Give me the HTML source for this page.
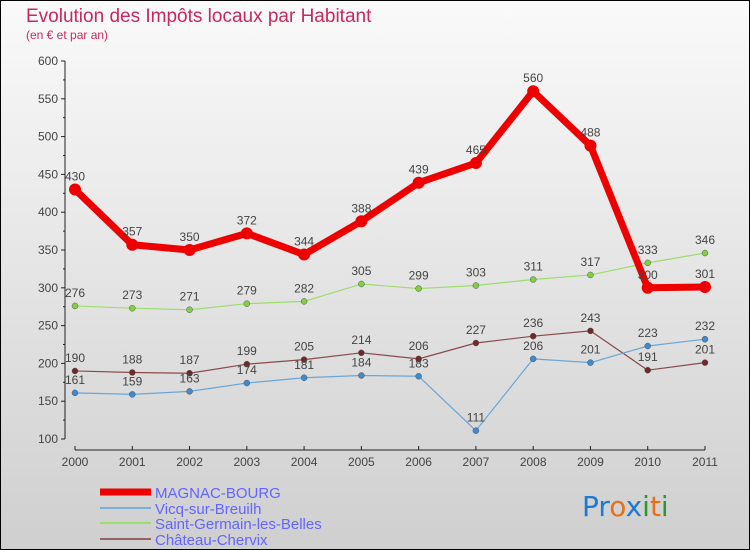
<!DOCTYPE html>
<html><head><meta charset="utf-8"><style>
body{margin:0}
#c{width:750px;height:550px;position:relative;overflow:hidden}
</style></head><body>
<div id="c">
<svg width="750" height="550" xmlns="http://www.w3.org/2000/svg" font-family="'Liberation Sans', sans-serif">
<defs><linearGradient id="bg" x1="0" y1="0" x2="0" y2="1"><stop offset="0" stop-color="#fafafa"/><stop offset="1" stop-color="#cfcfcf"/></linearGradient></defs>
<rect x="0.5" y="0.5" width="749" height="549" fill="url(#bg)" stroke="#000"/>
<text x="26" y="22" font-size="19" fill="#c8285a">Evolution des Impôts locaux par Habitant</text>
<text x="26" y="39" font-size="12" fill="#c8285a">(en € et par an)</text>
<g id="axes"></g><g id="series"></g>
<g>
<line x1="100" y1="492" x2="151" y2="492" stroke="#e00" stroke-width="7"/>
<text x="155" y="498" font-size="15" fill="#6464ff">MAGNAC-BOURG</text>
<line x1="100" y1="508" x2="151" y2="508" stroke="#7aaedc" stroke-width="2"/>
<text x="155" y="514" font-size="15" fill="#6464ff">Vicq-sur-Breuilh</text>
<line x1="100" y1="523" x2="151" y2="523" stroke="#9ddc6e" stroke-width="2"/>
<text x="155" y="529" font-size="15" fill="#6464ff">Saint-Germain-les-Belles</text>
<line x1="100" y1="539" x2="151" y2="539" stroke="#946464" stroke-width="2"/>
<text x="155" y="545" font-size="15" fill="#6464ff">Château-Chervix</text>
</g>
<g font-size="28" font-family="'DejaVu Sans', sans-serif">
<text x="582" y="516"><tspan fill="#1e7ad0">Pr</tspan><tspan fill="#e8701a">o</tspan><tspan fill="#1e7ad0">x</tspan><tspan fill="#2a9a30">i</tspan><tspan fill="#e8701a">t</tspan><tspan fill="#2a9a30">i</tspan></text>
</g>
</svg>
</div>
<script>
const years=["2000","2001","2002","2003","2004","2005","2006","2007","2008","2009","2010","2011"];
const yTicks=[100,150,200,250,300,350,400,450,500,550,600];
const magnac=[430,357,350,372,344,388,439,465,560,488,300,301];
const vicq=[161,159,163,174,181,184,183,111,206,201,223,232];
const saintGermain=[276,273,271,279,282,305,299,303,311,317,333,346];
const chateau=[190,188,187,199,205,214,206,227,236,243,191,201];
const NS="http://www.w3.org/2000/svg";
function xs(i){return 75+i*(705-75)/(years.length-1);}
function ys(v){return 439-(v-100)*378/500;}
function mk(t,a,p){const e=document.createElementNS(NS,t);for(const k in a)e.setAttribute(k,a[k]);p.appendChild(e);return e;}
const ax=document.getElementById('axes');
const yl=mk('line',{x1:65,y1:ys(600),x2:65,y2:ys(100),stroke:'#222'},ax);


yTicks.forEach(v=>{
 mk('line',{x1:61,y1:ys(v),x2:65,y2:ys(v),stroke:'#222'},ax);
 const t=mk('text',{x:58,y:ys(v)+4,'font-size':12,fill:'#444','text-anchor':'end'},ax);
 t.textContent=v;
 
 
});
for(let v=125;v<600;v+=50){mk('line',{x1:63,y1:ys(v),x2:65,y2:ys(v),stroke:'#222'},ax);}
const xl=mk('line',{x1:75,y1:450,x2:705,y2:450,stroke:'#222'},ax);


years.forEach((y,i)=>{
 mk('line',{x1:xs(i),y1:446,x2:xs(i),y2:450,stroke:'#222'},ax);
 const t=mk('text',{x:xs(i),y:466,'font-size':12,fill:'#444','text-anchor':'middle'},ax);
 t.textContent=y;
 
 
});
const sg=document.getElementById('series');
function draw(name,data,color,w,r,dot){
 const g=mk('g',{},sg);
 
 
 mk('polyline',{points:data.map((v,i)=>xs(i)+','+ys(v)).join(' '),fill:'none',stroke:color,'stroke-width':w,'stroke-linejoin':'round'},g);
 data.forEach((v,i)=>{
  const c=mk('circle',{cx:xs(i),cy:ys(v),r:r,fill:dot,stroke:w>3?'none':'#555','stroke-width':0.5},g);
  
  
  const t=mk('text',{x:xs(i),y:ys(v)-9,'font-size':12,fill:'#444','text-anchor':'middle'},g);
  t.textContent=v;
  
  
 });
}
draw('chateau',chateau,'#8a4a4a',1.2,3,'#702828');
draw('saint-germain',saintGermain,'#9ddc6e',1.2,3,'#80d040');
draw('vicq',vicq,'#6aa6d8',1.2,3,'#3c8ad0');
draw('magnac',magnac,'#ee0000',7,6,'#ee0000');
</script>
</body></html>
